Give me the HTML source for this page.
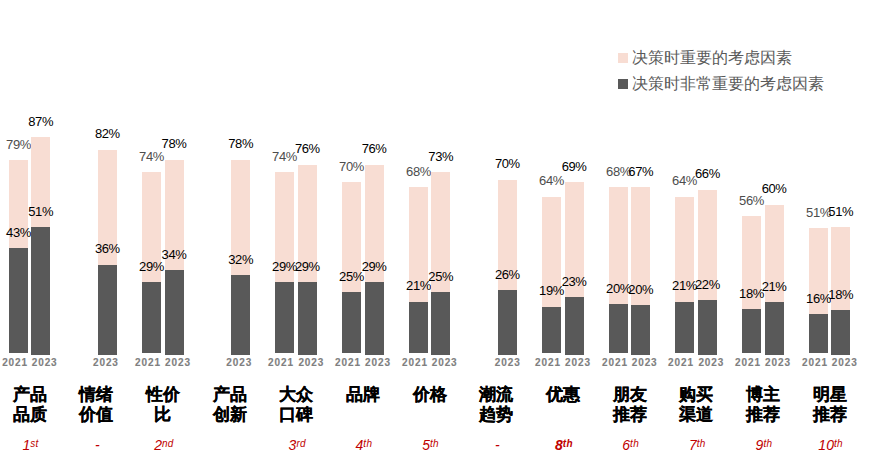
<!DOCTYPE html>
<html><head><meta charset="utf-8"><style>
html,body{margin:0;padding:0;background:#fff;width:875px;height:473px;overflow:hidden;position:relative;font-family:"Liberation Sans",sans-serif}
.b{position:absolute;width:19px}
.l{background:#F8DDD3}
.d{background:#595959}
.v{position:absolute;width:40px;text-align:center;font-size:13px;line-height:13px;color:#000;white-space:nowrap;letter-spacing:-0.4px}
.v.g{color:#4d4d4d}
.yr{position:absolute;width:40px;text-align:center;font-size:10px;line-height:10px;top:358px;font-weight:bold;color:#7f7f7f;letter-spacing:0.9px;text-indent:0.9px;-webkit-text-stroke:0.15px #7f7f7f}
.cat{position:absolute;width:80px;text-align:center;font-size:17px;line-height:17px;font-weight:bold;color:#000;white-space:nowrap;-webkit-text-stroke:0.25px #000}
.rk{position:absolute;width:80px;text-align:center;font-size:14px;line-height:14px;top:437.75px;font-style:italic;color:#C00000}
.rk sup{font-size:10px;vertical-align:3px;line-height:0;letter-spacing:0.3px}
.rk.bd{font-weight:bold}
.lg{position:absolute;left:618px;width:10px;height:10px}
.lt{position:absolute;left:632px;font-size:16px;line-height:16px;color:#595959;white-space:nowrap}
</style></head><body>
<div class="lg" style="top:53px;background:#F8DDD3"></div>
<div class="lt" style="top:50.3px">决策时重要的考虑因素</div>
<div class="lg" style="top:79px;background:#595959"></div>
<div class="lt" style="top:76.3px">决策时非常重要的考虑因素</div>
<div class="b l" style="left:9.00px;top:160.00px;height:193.00px"></div>
<div class="b d" style="left:9.00px;top:247.95px;height:105.05px"></div>
<div class="v g" style="left:-1.50px;top:137.70px">79%</div>
<div class="v" style="left:-1.50px;top:225.65px">43%</div>
<div class="yr" style="left:-5.40px">2021</div>
<div class="b l" style="left:31.20px;top:136.98px;height:218.02px"></div>
<div class="b d" style="left:31.20px;top:227.19px;height:127.81px"></div>
<div class="v" style="left:20.70px;top:114.68px">87%</div>
<div class="v" style="left:20.70px;top:204.89px">51%</div>
<div class="yr" style="left:24.20px">2023</div>
<div class="cat" style="left:-10.40px;top:386.00px">产品</div>
<div class="cat" style="left:-10.40px;top:406.30px">品质</div>
<div class="rk" style="left:-9.40px">1<sup>st</sup></div>
<div class="b l" style="left:97.87px;top:149.51px;height:205.49px"></div>
<div class="b d" style="left:97.87px;top:264.78px;height:90.22px"></div>
<div class="v" style="left:87.37px;top:127.21px">82%</div>
<div class="v" style="left:87.37px;top:242.48px">36%</div>
<div class="yr" style="left:85.47px">2023</div>
<div class="cat" style="left:56.27px;top:386.00px">情绪</div>
<div class="cat" style="left:56.27px;top:406.30px">价值</div>
<div class="rk" style="left:57.27px">-</div>
<div class="b l" style="left:142.00px;top:172.22px;height:180.78px"></div>
<div class="b d" style="left:142.00px;top:282.15px;height:70.85px"></div>
<div class="v g" style="left:131.50px;top:149.92px">74%</div>
<div class="v" style="left:131.50px;top:259.85px">29%</div>
<div class="yr" style="left:127.60px">2021</div>
<div class="b l" style="left:164.54px;top:159.53px;height:195.47px"></div>
<div class="b d" style="left:164.54px;top:269.80px;height:85.20px"></div>
<div class="v" style="left:154.04px;top:137.23px">78%</div>
<div class="v" style="left:154.04px;top:247.50px">34%</div>
<div class="yr" style="left:157.54px">2023</div>
<div class="cat" style="left:122.94px;top:386.00px">性价</div>
<div class="cat" style="left:122.94px;top:406.30px">比</div>
<div class="rk" style="left:123.94px">2<sup>nd</sup></div>
<div class="b l" style="left:231.21px;top:159.53px;height:195.47px"></div>
<div class="b d" style="left:231.21px;top:274.81px;height:80.19px"></div>
<div class="v" style="left:220.71px;top:137.23px">78%</div>
<div class="v" style="left:220.71px;top:252.51px">32%</div>
<div class="yr" style="left:218.81px">2023</div>
<div class="cat" style="left:189.61px;top:386.00px">产品</div>
<div class="cat" style="left:189.61px;top:406.30px">创新</div>
<div class="b l" style="left:275.00px;top:172.22px;height:180.78px"></div>
<div class="b d" style="left:275.00px;top:282.15px;height:70.85px"></div>
<div class="v g" style="left:264.50px;top:149.92px">74%</div>
<div class="v" style="left:264.50px;top:259.85px">29%</div>
<div class="yr" style="left:260.60px">2021</div>
<div class="b l" style="left:297.88px;top:164.54px;height:190.46px"></div>
<div class="b d" style="left:297.88px;top:282.33px;height:72.67px"></div>
<div class="v" style="left:287.38px;top:142.24px">76%</div>
<div class="v" style="left:287.38px;top:260.03px">29%</div>
<div class="yr" style="left:290.88px">2023</div>
<div class="cat" style="left:256.28px;top:386.00px">大众</div>
<div class="cat" style="left:256.28px;top:406.30px">口碑</div>
<div class="rk" style="left:257.28px">3<sup>rd</sup></div>
<div class="b l" style="left:342.00px;top:181.99px;height:171.01px"></div>
<div class="b d" style="left:342.00px;top:291.93px;height:61.07px"></div>
<div class="v g" style="left:331.50px;top:159.69px">70%</div>
<div class="v" style="left:331.50px;top:269.62px">25%</div>
<div class="yr" style="left:327.60px">2021</div>
<div class="b l" style="left:364.55px;top:164.54px;height:190.46px"></div>
<div class="b d" style="left:364.55px;top:282.33px;height:72.67px"></div>
<div class="v" style="left:354.05px;top:142.24px">76%</div>
<div class="v" style="left:354.05px;top:260.03px">29%</div>
<div class="yr" style="left:357.55px">2023</div>
<div class="cat" style="left:322.95px;top:386.00px">品牌</div>
<div class="rk" style="left:323.95px">4<sup>th</sup></div>
<div class="b l" style="left:409.00px;top:186.88px;height:166.12px"></div>
<div class="b d" style="left:409.00px;top:301.70px;height:51.30px"></div>
<div class="v g" style="left:398.50px;top:164.58px">68%</div>
<div class="v" style="left:398.50px;top:279.40px">21%</div>
<div class="yr" style="left:394.60px">2021</div>
<div class="b l" style="left:431.22px;top:172.06px;height:182.94px"></div>
<div class="b d" style="left:431.22px;top:292.35px;height:62.65px"></div>
<div class="v" style="left:420.72px;top:149.76px">73%</div>
<div class="v" style="left:420.72px;top:270.05px">25%</div>
<div class="yr" style="left:424.22px">2023</div>
<div class="cat" style="left:389.62px;top:386.00px">价格</div>
<div class="rk" style="left:390.62px">5<sup>th</sup></div>
<div class="b l" style="left:497.89px;top:179.58px;height:175.42px"></div>
<div class="b d" style="left:497.89px;top:289.84px;height:65.16px"></div>
<div class="v" style="left:487.39px;top:157.28px">70%</div>
<div class="v" style="left:487.39px;top:267.54px">26%</div>
<div class="yr" style="left:487.29px">2023</div>
<div class="cat" style="left:456.29px;top:386.00px">潮流</div>
<div class="cat" style="left:456.29px;top:406.30px">趋势</div>
<div class="rk" style="left:457.29px">-</div>
<div class="b l" style="left:542.00px;top:196.65px;height:156.35px"></div>
<div class="b d" style="left:542.00px;top:306.58px;height:46.42px"></div>
<div class="v g" style="left:531.50px;top:174.35px">64%</div>
<div class="v" style="left:531.50px;top:284.28px">19%</div>
<div class="yr" style="left:527.60px">2021</div>
<div class="b l" style="left:564.56px;top:182.09px;height:172.91px"></div>
<div class="b d" style="left:564.56px;top:297.36px;height:57.64px"></div>
<div class="v" style="left:554.06px;top:159.79px">69%</div>
<div class="v" style="left:554.06px;top:275.06px">23%</div>
<div class="yr" style="left:557.56px">2023</div>
<div class="cat" style="left:522.96px;top:386.00px">优惠</div>
<div class="rk bd" style="left:523.96px">8<sup>th</sup></div>
<div class="b l" style="left:609.00px;top:186.88px;height:166.12px"></div>
<div class="b d" style="left:609.00px;top:304.14px;height:48.86px"></div>
<div class="v g" style="left:598.50px;top:164.58px">68%</div>
<div class="v" style="left:598.50px;top:281.84px">20%</div>
<div class="yr" style="left:594.60px">2021</div>
<div class="b l" style="left:631.23px;top:187.10px;height:167.90px"></div>
<div class="b d" style="left:631.23px;top:304.88px;height:50.12px"></div>
<div class="v" style="left:620.73px;top:164.80px">67%</div>
<div class="v" style="left:620.73px;top:282.58px">20%</div>
<div class="yr" style="left:624.23px">2023</div>
<div class="cat" style="left:589.63px;top:386.00px">朋友</div>
<div class="cat" style="left:589.63px;top:406.30px">推荐</div>
<div class="rk" style="left:590.63px">6<sup>th</sup></div>
<div class="b l" style="left:675.00px;top:196.65px;height:156.35px"></div>
<div class="b d" style="left:675.00px;top:301.70px;height:51.30px"></div>
<div class="v g" style="left:664.50px;top:174.35px">64%</div>
<div class="v" style="left:664.50px;top:279.40px">21%</div>
<div class="yr" style="left:660.60px">2021</div>
<div class="b l" style="left:697.90px;top:189.60px;height:165.40px"></div>
<div class="b d" style="left:697.90px;top:299.87px;height:55.13px"></div>
<div class="v" style="left:687.40px;top:167.30px">66%</div>
<div class="v" style="left:687.40px;top:277.57px">22%</div>
<div class="yr" style="left:690.90px">2023</div>
<div class="cat" style="left:656.30px;top:386.00px">购买</div>
<div class="cat" style="left:656.30px;top:406.30px">渠道</div>
<div class="rk" style="left:657.30px">7<sup>th</sup></div>
<div class="b l" style="left:742.00px;top:216.19px;height:136.81px"></div>
<div class="b d" style="left:742.00px;top:309.03px;height:43.97px"></div>
<div class="v g" style="left:731.50px;top:193.89px">56%</div>
<div class="v" style="left:731.50px;top:286.73px">18%</div>
<div class="yr" style="left:727.60px">2021</div>
<div class="b l" style="left:764.57px;top:204.64px;height:150.36px"></div>
<div class="b d" style="left:764.57px;top:302.37px;height:52.63px"></div>
<div class="v" style="left:754.07px;top:182.34px">60%</div>
<div class="v" style="left:754.07px;top:280.07px">21%</div>
<div class="yr" style="left:757.57px">2023</div>
<div class="cat" style="left:722.97px;top:386.00px">博主</div>
<div class="cat" style="left:722.97px;top:406.30px">推荐</div>
<div class="rk" style="left:723.97px">9<sup>th</sup></div>
<div class="b l" style="left:809.00px;top:228.41px;height:124.59px"></div>
<div class="b d" style="left:809.00px;top:313.91px;height:39.09px"></div>
<div class="v g" style="left:798.50px;top:206.11px">51%</div>
<div class="v" style="left:798.50px;top:291.61px">16%</div>
<div class="yr" style="left:794.60px">2021</div>
<div class="b l" style="left:831.24px;top:227.19px;height:127.81px"></div>
<div class="b d" style="left:831.24px;top:309.89px;height:45.11px"></div>
<div class="v" style="left:820.74px;top:204.89px">51%</div>
<div class="v" style="left:820.74px;top:287.59px">18%</div>
<div class="yr" style="left:824.24px">2023</div>
<div class="cat" style="left:789.64px;top:386.00px">明星</div>
<div class="cat" style="left:789.64px;top:406.30px">推荐</div>
<div class="rk" style="left:790.64px">10<sup>th</sup></div>
</body></html>
